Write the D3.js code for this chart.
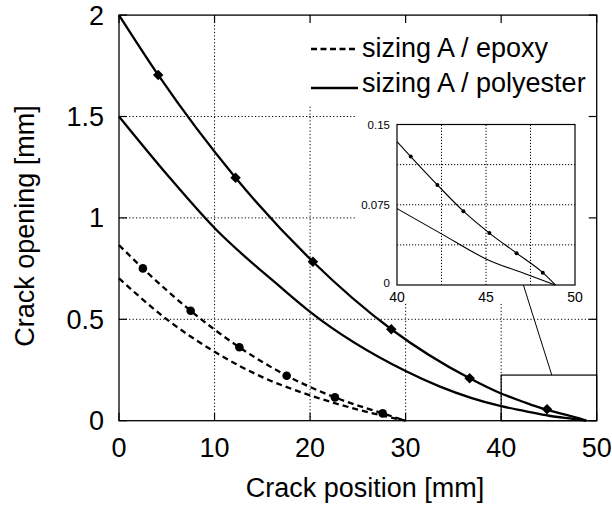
<!DOCTYPE html>
<html>
<head>
<meta charset="utf-8">
<script src="https://cdn.jsdelivr.net/npm/d3@7"></script>
<style>
  body { margin: 0; background: #fff; }
  text { font-family: "Liberation Sans", Arial, Helvetica, sans-serif; fill: #000; }
</style>
</head>
<body>
<div id="main"></div>
<script>
// crack opening profiles
const polyAX = [0, 4.1, 12.2, 20.3, 28.5, 36.7, 40, 40.77, 42.27, 43.73, 45.19, 46.72, 48.19, 48.9];
const polyAY = [2, 1.705, 1.198, 0.784, 0.451, 0.209, 0.134, 0.120, 0.0935, 0.069, 0.0485, 0.0297, 0.0115, 0];
const polyBX = [0, 5, 10, 16.85, 20, 30, 33.6, 40, 42.5, 45, 47.5, 48.9];
const polyBY = [1.5, 1.215, 0.95, 0.661, 0.537, 0.245, 0.168, 0.0714, 0.0478, 0.0244, 0.0087, 0];
const epoAX = [0, 2.5, 7.5, 12.6, 17.55, 22.6, 27.6, 30];
const epoAY = [0.866, 0.751, 0.542, 0.362, 0.222, 0.115, 0.036, 0];
const epoBX = [0, 5, 10, 15, 20, 25, 30];
const epoBY = [0.702, 0.50, 0.34, 0.215, 0.125, 0.055, 0];

// markers
const diamondX = [4.1, 12.2, 20.3, 28.5, 36.7, 44.8];
const diamondY = [1.705, 1.198, 0.784, 0.451, 0.209, 0.056];
const circleX = [2.5, 7.5, 12.6, 17.55, 22.6, 27.6];
const circleY = [0.751, 0.542, 0.362, 0.222, 0.115, 0.036];
const insetDotX = [40.77, 42.27, 43.73, 45.19, 46.72, 48.19];
const insetDotY = [0.120, 0.0935, 0.069, 0.0485, 0.0297, 0.0115];

const xTicks = [0, 10, 20, 30, 40, 50];
const yTicks = [0, 0.5, 1, 1.5, 2];
const insetXTicks = [40, 45, 50];
const insetYTicks = [0, 0.075, 0.15];
const insetXGrid = [42.5, 45, 47.5];
const insetYGrid = [0.0375, 0.075, 0.1125];
const legendLabels = ['sizing A / epoxy', 'sizing A / polyester'];

const zoomBox = { x0: 40, x1: 50, y0: 0, y1: 0.225 };

const width = 612, height = 508;
const svg = d3.select('#main').append('svg').attr('width', width).attr('height', height);

const x = d3.scaleLinear().domain([0, 50]).range([119, 596.7]);
const y = d3.scaleLinear().domain([0, 2]).range([420.7, 15.1]);

const pairs = (xs, ys) => xs.map((v, i) => [v, ys[i]]);

// grid
const grid = svg.append('g').attr('stroke', '#000').attr('stroke-width', 1).attr('stroke-dasharray', '1.2,2.2');
xTicks.slice(1, -1).forEach(t => {
  grid.append('line').attr('x1', x(t)).attr('x2', x(t)).attr('y1', y(0)).attr('y2', y(2));
});
yTicks.slice(1, -1).forEach(t => {
  grid.append('line').attr('x1', x(0)).attr('x2', x(50)).attr('y1', y(t)).attr('y2', y(t));
});

// white areas under legend and inset
svg.append('rect').attr('x', 300).attr('y', 16).attr('width', 296).attr('height', 90).attr('fill', '#fff');
svg.append('rect').attr('x', 355).attr('y', 106).attr('width', 241).attr('height', 196).attr('fill', '#fff');

// frame + inward ticks
svg.append('rect').attr('x', x(0)).attr('y', y(2)).attr('width', x(50) - x(0)).attr('height', y(0) - y(2))
  .attr('fill', 'none').attr('stroke', '#000').attr('stroke-width', 1.3);
const tk = svg.append('g').attr('stroke', '#000').attr('stroke-width', 1.2);
xTicks.forEach(t => {
  tk.append('line').attr('x1', x(t)).attr('x2', x(t)).attr('y1', y(0)).attr('y2', y(0) - 8);
  tk.append('line').attr('x1', x(t)).attr('x2', x(t)).attr('y1', y(2)).attr('y2', y(2) + 8);
});
yTicks.forEach(t => {
  tk.append('line').attr('x1', x(0)).attr('x2', x(0) + 8).attr('y1', y(t)).attr('y2', y(t));
  tk.append('line').attr('x1', x(50)).attr('x2', x(50) - 8).attr('y1', y(t)).attr('y2', y(t));
});

// tick labels
svg.append('g').selectAll('text').data(xTicks).join('text')
  .attr('x', d => x(d)).attr('y', 457).attr('text-anchor', 'middle')
  .attr('font-size', 27).text(d => d);
svg.append('g').selectAll('text').data(yTicks).join('text')
  .attr('x', 104).attr('y', d => y(d) + 9.5).attr('text-anchor', 'end')
  .attr('font-size', 27).text(d => d);

svg.append('text').attr('x', 365).attr('y', 497).attr('text-anchor', 'middle')
  .attr('font-size', 27).text('Crack position [mm]');
svg.append('text').attr('transform', 'translate(34,226) rotate(-90)')
  .attr('text-anchor', 'middle').attr('font-size', 27).text('Crack opening [mm]');

// curves
const line = d3.line().x(d => x(d[0])).y(d => y(d[1])).curve(d3.curveMonotoneX);
const curves = svg.append('g').attr('fill', 'none').attr('stroke', '#000').attr('stroke-width', 2.3);
curves.append('path').attr('d', line(pairs(polyAX, polyAY)));
curves.append('path').attr('d', line(pairs(polyBX, polyBY)));
curves.append('path').attr('d', line(pairs(epoAX, epoAY))).attr('stroke-dasharray', '6,4');
curves.append('path').attr('d', line(pairs(epoBX, epoBY))).attr('stroke-dasharray', '6,4');

svg.append('g').selectAll('path').data(pairs(diamondX, diamondY)).join('path')
  .attr('transform', d => `translate(${x(d[0])},${y(d[1])})`)
  .attr('d', d3.symbol(d3.symbolDiamond2, 70)).attr('fill', '#000');
svg.append('g').selectAll('circle').data(pairs(circleX, circleY)).join('circle')
  .attr('cx', d => x(d[0])).attr('cy', d => y(d[1])).attr('r', 4.3).attr('fill', '#000');

// zoom box in main plot
svg.append('rect').attr('x', x(zoomBox.x0)).attr('y', y(zoomBox.y1))
  .attr('width', x(zoomBox.x1) - x(zoomBox.x0)).attr('height', y(zoomBox.y0) - y(zoomBox.y1))
  .attr('fill', 'none').attr('stroke', '#000').attr('stroke-width', 1.2);

// legend
const legend = svg.append('g');
legendLabels.forEach((label, i) => {
  const ly = [49, 88][i];
  legend.append('line').attr('x1', 311).attr('x2', 358).attr('y1', ly).attr('y2', ly)
    .attr('stroke', '#000').attr('stroke-width', 2.3).attr('stroke-dasharray', i === 0 ? '6,3.5' : null);
  legend.append('text').attr('x', 362).attr('y', [57, 92][i]).attr('font-size', 27).text(label);
});

// inset
const ix = d3.scaleLinear().domain([40, 50]).range([397, 575]);
const iy = d3.scaleLinear().domain([0, 0.15]).range([285, 124.5]);
const inset = svg.append('g');

// connector from zoom box to inset
inset.append('line').attr('x1', x(45.3)).attr('y1', y(zoomBox.y1)).attr('x2', ix(47.1)).attr('y2', iy(0))
  .attr('stroke', '#000').attr('stroke-width', 1);

const ig = inset.append('g').attr('stroke', '#000').attr('stroke-width', 1).attr('stroke-dasharray', '1.2,1.8');
insetXGrid.forEach(t => ig.append('line').attr('x1', ix(t)).attr('x2', ix(t)).attr('y1', iy(0)).attr('y2', iy(0.15)));
insetYGrid.forEach(t => ig.append('line').attr('x1', ix(40)).attr('x2', ix(50)).attr('y1', iy(t)).attr('y2', iy(t)));

inset.append('rect').attr('x', ix(40)).attr('y', iy(0.15)).attr('width', ix(50) - ix(40)).attr('height', iy(0) - iy(0.15))
  .attr('fill', 'none').attr('stroke', '#000').attr('stroke-width', 1.2);

const iline = d3.line().x(d => ix(d[0])).y(d => iy(d[1])).curve(d3.curveMonotoneX);
const ic = inset.append('g').attr('fill', 'none').attr('stroke', '#000').attr('stroke-width', 1.1);
ic.append('path').attr('d', iline(pairs(polyAX, polyAY).filter(d => d[0] >= 40)));
ic.append('path').attr('d', iline(pairs(polyBX, polyBY).filter(d => d[0] >= 40)));
inset.append('g').selectAll('circle').data(pairs(insetDotX, insetDotY)).join('circle')
  .attr('cx', d => ix(d[0])).attr('cy', d => iy(d[1])).attr('r', 2).attr('fill', '#000');

inset.append('g').selectAll('text').data(insetXTicks).join('text')
  .attr('x', d => ix(d)).attr('y', 302).attr('text-anchor', 'middle').attr('font-size', 14).text(d => d);
inset.append('g').selectAll('text').data(insetYTicks).join('text')
  .attr('x', 390).attr('y', d => iy(d) + (d === 0 ? 2 : 4)).attr('text-anchor', 'end').attr('font-size', 11.5).text(d => d);
</script>
</body>
</html>
